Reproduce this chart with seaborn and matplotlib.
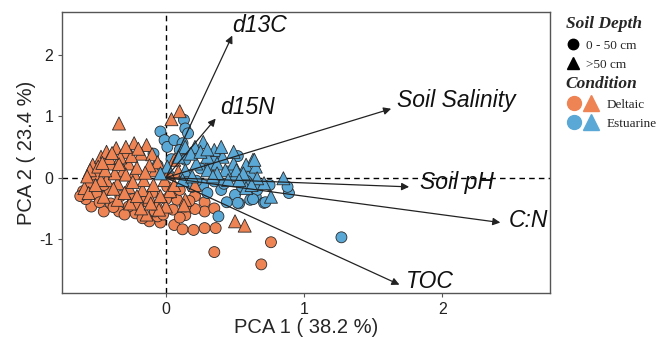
import pandas as pd
import numpy as np
import matplotlib
matplotlib.use("Agg")
import matplotlib.pyplot as plt
import seaborn as sns
from matplotlib.lines import Line2D
from matplotlib.legend_handler import HandlerTuple
from matplotlib.font_manager import FontProperties

# PCA scores
deltaic_circle_x = [-0.54, -0.45, -0.34, -0.22, -0.12, -0.04, 0.06, 0.12, 0.20, 0.28, 0.36, 0.35, 0.69, 0.76,
                    0.14, 0.21, 0.28, 0.28, 0.35, 0.21, 0.14, 0.08, 0.04, -0.17, -0.06, -0.40, -0.27, 0.01,
                    -0.58, -0.50, -0.42, -0.33, -0.24, -0.15, -0.08, 0.00, 0.10, -0.60, -0.48, -0.38, -0.30,
                    -0.20, -0.10, 0.05, -0.02, 0.17, -0.55, -0.45, -0.62, 0.10]
deltaic_circle_y = [-0.47, -0.55, -0.55, -0.58, -0.71, -0.73, -0.77, -0.84, -0.85, -0.82, -0.82, -1.21, -1.41, -1.05,
                    -0.61, -0.30, -0.40, -0.55, -0.50, -0.51, -0.47, -0.36, -0.25, -0.66, -0.63, -0.42, -0.47, -0.15,
                    -0.35, -0.28, -0.20, -0.30, -0.35, -0.38, -0.55, -0.35, -0.20, -0.22, -0.40, -0.48, -0.60,
                    -0.45, -0.25, -0.52, -0.60, -0.38, -0.08, -0.12, -0.30, -0.65]

deltaic_tri_x = [-0.34, 0.04, 0.10, -0.59, -0.53, -0.47, -0.43, -0.36, -0.29, -0.23, -0.14, -0.18, -0.27, -0.40,
                 -0.50, -0.43, -0.35, -0.27, -0.17, -0.12, -0.06, 0.00, -0.14, -0.23, -0.16, -0.08, -0.01, 0.06,
                 0.09, 0.14, 0.21, 0.50, 0.57, -0.31, -0.37, -0.47, -0.56, -0.45, -0.35, -0.26, -0.18, -0.05,
                 -0.55, -0.49, -0.41, -0.33, -0.25, -0.20, -0.10, -0.06, -0.12, -0.21, -0.29, -0.38, -0.51,
                 -0.30, -0.21, -0.09, 0.02, 0.03, -0.04, 0.13, -0.57, -0.44, -0.34, -0.15, -0.24, -0.11, 0.06,
                 -0.39, -0.29, -0.46]
deltaic_tri_y = [0.88, 0.95, 1.08, -0.17, 0.21, 0.34, 0.42, 0.48, 0.42, 0.56, 0.53, 0.39, 0.23, 0.23,
                 0.07, -0.04, -0.09, -0.15, -0.20, -0.31, -0.42, -0.47, -0.60, 0.07, -0.04, 0.12, -0.04, 0.29,
                 0.10, -0.36, -0.12, -0.71, -0.78, 0.12, 0.07, -0.04, -0.25, -0.31, -0.36, -0.42, -0.50, -0.52,
                 0.12, 0.18, 0.32, 0.33, 0.35, 0.47, 0.38, 0.25, 0.20, 0.16, 0.05, -0.18, -0.12,
                 -0.25, -0.30, -0.12, 0.07, -0.22, -0.30, -0.45, 0.02, 0.12, 0.22, 0.08, -0.07, -0.42, -0.12,
                 0.40, 0.50, 0.24]

estuarine_circle_x = [-0.04, 0.13, 0.14, 0.16, -0.01, -0.09, 0.01, 0.06, 0.12, 1.27, 0.38, 0.44, 0.53, 0.40,
                      0.50, 0.65, 0.71, 0.61, 0.89, 0.88, 0.27, 0.19, 0.35, 0.48, 0.61, 0.25, 0.32, 0.14,
                      0.10, 0.20, 0.04, -0.06, 0.30, 0.42, 0.55, 0.58, 0.66, 0.75, 0.22, 0.45, 0.15, 0.36, 0.52,
                      0.72, 0.63, 0.52]
estuarine_circle_y = [0.75, 0.94, 0.80, 0.72, 0.61, 0.39, 0.50, 0.61, 0.56, -0.97, -0.63, -0.40, -0.42, -0.20,
                      -0.28, -0.31, -0.41, -0.36, -0.25, -0.15, -0.12, -0.15, -0.06, 0.02, 0.02, 0.15, 0.18, 0.29,
                      0.45, 0.38, 0.30, 0.20, -0.25, -0.10, -0.15, -0.05, -0.20, -0.12, -0.05, 0.10, 0.05, 0.30, 0.35,
                      -0.40, -0.35, -0.41]

estuarine_tri_x = [0.27, 0.21, 0.14, 0.35, 0.30, 0.41, 0.49, 0.37, 0.63, 0.58, 0.65, 0.51, 0.43, 0.56, 0.71,
                   0.85, 0.76, 0.58, 0.45, 0.37, 0.30, 0.22, 0.14, 0.09, 0.01, -0.04, 0.18, 0.25, 0.12, 0.19,
                   0.34, 0.53, 0.66, 0.49, 0.62, 0.40, 0.30, 0.64]
estuarine_tri_y = [0.58, 0.50, 0.50, 0.45, 0.34, 0.34, 0.23, 0.23, 0.29, 0.21, 0.18, 0.12, 0.12, 0.07, -0.09,
                   -0.01, -0.31, -0.17, -0.04, 0.07, 0.12, 0.23, 0.12, 0.34, 0.18, 0.07, 0.39, 0.42, -0.04, 0.02,
                   0.02, -0.04, -0.01, 0.42, -0.12, 0.50, 0.46, 0.29]

# loading vectors
load_names = ["d13C", "d15N", "Soil Salinity", "Soil pH", "C:N", "TOC"]
load_x = [0.48, 0.36, 1.63, 1.76, 2.42, 1.69]
load_y = [2.31, 0.96, 1.12, -0.15, -0.73, -1.74]
label_x = [0.48, 0.39, 1.67, 1.84, 2.48, 1.74]
label_y = [2.48, 1.14, 1.26, -0.08, -0.69, -1.69]

colors = {"Deltaic": "#EE8354", "Estuarine": "#5AA8D6"}

frames = []
for cond, depth, xs, ys in [("Deltaic", "0 - 50 cm", deltaic_circle_x, deltaic_circle_y),
                            ("Estuarine", "0 - 50 cm", estuarine_circle_x, estuarine_circle_y),
                            ("Deltaic", ">50 cm", deltaic_tri_x, deltaic_tri_y),
                            ("Estuarine", ">50 cm", estuarine_tri_x, estuarine_tri_y)]:
    frames.append(pd.DataFrame({"PC1": xs, "PC2": ys, "Condition": cond, "Depth": depth}))
df = pd.concat(frames, ignore_index=True)

sns.set_style("ticks")
plt.rcParams['font.family'] = ['Liberation Sans', 'DejaVu Sans']
plt.rcParams['axes.unicode_minus'] = False

fig = plt.figure(figsize=(6.7, 3.38), dpi=100)
ax = fig.add_axes([0.093, 0.133, 0.728, 0.831])

ax.axhline(0, color="black", lw=1, ls=(0, (4, 3)), zorder=1)
ax.axvline(0, color="black", lw=1, ls=(0, (4, 3)), zorder=1)

sns.scatterplot(data=df[df.Depth == "0 - 50 cm"], x="PC1", y="PC2", hue="Condition", palette=colors,
                marker="o", s=62, edgecolor="#2a2a2a", linewidth=0.6, legend=False, ax=ax, zorder=3)
sns.scatterplot(data=df[df.Depth == ">50 cm"], x="PC1", y="PC2", hue="Condition", palette=colors,
                marker="^", s=88, edgecolor="#2a2a2a", linewidth=0.6, legend=False, ax=ax, zorder=3)

for name, tx, ty, lx, ly in zip(load_names, load_x, load_y, label_x, label_y):
    ax.annotate("", xy=(tx, ty), xytext=(0, 0),
                arrowprops=dict(arrowstyle="-|>", color="#222222", lw=0.9, mutation_scale=11,
                                shrinkA=0, shrinkB=0), zorder=4)
    ax.text(lx, ly, name, fontsize=16.5, fontstyle="italic", ha="left", va="center", color="#111111", zorder=5)

ax.set_xlim(-0.75, 2.78)
ax.set_ylim(-1.876, 2.69)
ax.set_xticks([0, 1, 2])
ax.set_yticks([-1, 0, 1, 2])
ax.tick_params(labelsize=11.5, length=3, color="#555555", labelcolor="#222222")
ax.set_xlabel("PCA 1 ( 38.2 %)", fontsize=14.5, labelpad=1)
ax.set_ylabel("PCA 2 ( 23.4 %)", fontsize=14.5, labelpad=2)
for sp in ax.spines.values():
    sp.set_color("#555555")
    sp.set_linewidth(1)

# legends
serif = FontProperties(family=["Liberation Serif", "DejaVu Serif"], size=9.5)
title_fp = FontProperties(family=["Liberation Serif", "DejaVu Serif"], size=12.5, weight="bold", style="italic")

depth_handles = [Line2D([], [], marker="o", ls="", color="black", ms=7.5),
                 Line2D([], [], marker="^", ls="", color="black", ms=8.5)]
leg1 = fig.legend(depth_handles, ["0 - 50 cm", ">50 cm"], title="Soil Depth", loc="upper left",
                  bbox_to_anchor=(0.835, 0.972), frameon=False, prop=serif, title_fontproperties=title_fp,
                  alignment="left", handlelength=1, handletextpad=0.5, labelspacing=0.55, borderpad=0)

cond_handles = []
for cond in ["Deltaic", "Estuarine"]:
    c = Line2D([], [], marker="o", ls="", markerfacecolor=colors[cond], markeredgecolor=colors[cond], ms=10)
    t = Line2D([], [], marker="^", ls="", markerfacecolor=colors[cond], markeredgecolor=colors[cond], ms=11)
    cond_handles.append((c, t))
leg2 = fig.legend(cond_handles, ["Deltaic", "Estuarine"], title="Condition", loc="upper left",
                  bbox_to_anchor=(0.834, 0.796), frameon=False, prop=serif, title_fontproperties=title_fp,
                  alignment="left", handlelength=2.6, handletextpad=0.5, labelspacing=0.52, borderpad=0,
                  handler_map={tuple: HandlerTuple(ndivide=None, pad=0.1)})

fig.savefig("out.png", dpi=100)
